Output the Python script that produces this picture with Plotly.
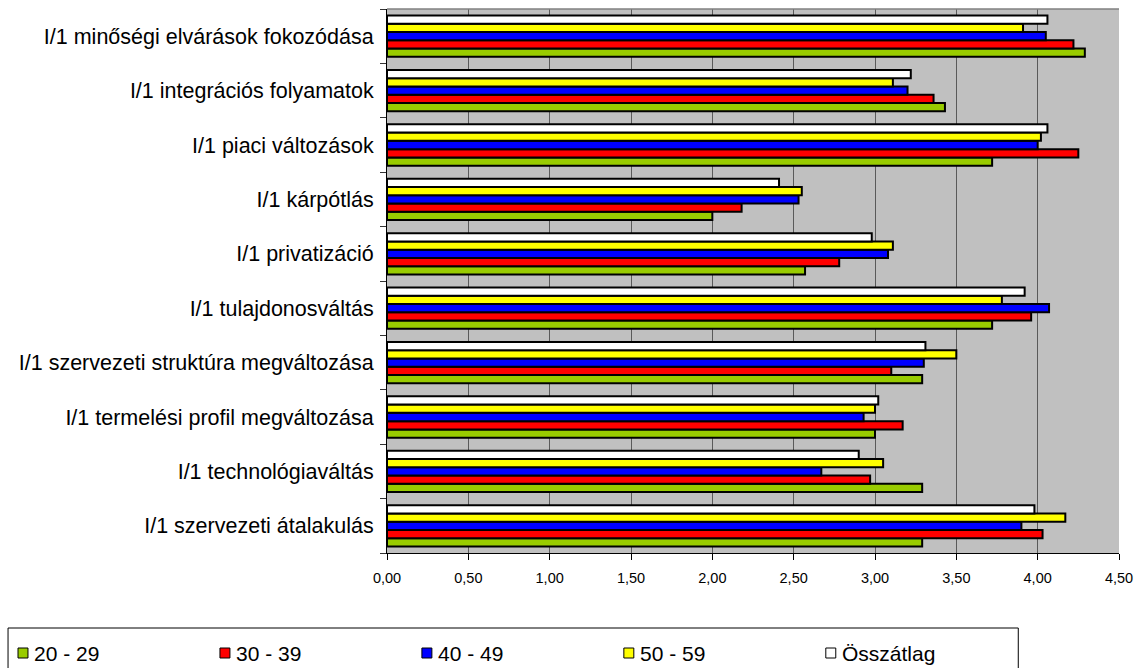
import plotly.graph_objects as go

# Categories listed bottom-to-top, as they appear on the vertical axis
categories = [
    "I/1 szervezeti átalakulás",
    "I/1 technológiaváltás",
    "I/1 termelési profil megváltozása",
    "I/1 szervezeti struktúra megváltozása",
    "I/1 tulajdonosváltás",
    "I/1 privatizáció",
    "I/1 kárpótlás",
    "I/1 piaci változások",
    "I/1 integrációs folyamatok",
    "I/1 minőségi elvárások fokozódása",
]

age_20_29 = [3.29, 3.29, 3.00, 3.29, 3.72, 2.57, 2.00, 3.72, 3.43, 4.29]
age_30_39 = [4.03, 2.97, 3.17, 3.10, 3.96, 2.78, 2.18, 4.25, 3.36, 4.22]
age_40_49 = [3.90, 2.67, 2.93, 3.30, 4.07, 3.08, 2.53, 4.00, 3.20, 4.05]
age_50_59 = [4.17, 3.05, 3.00, 3.50, 3.78, 3.11, 2.55, 4.02, 3.11, 3.91]
overall = [3.98, 2.90, 3.02, 3.31, 3.92, 2.98, 2.41, 4.06, 3.22, 4.06]

series_names = ["20 - 29", "30 - 39", "40 - 49", "50 - 59", "Összátlag"]
series_values = [age_20_29, age_30_39, age_40_49, age_50_59, overall]
series_colors = ["#99CC00", "#FF0000", "#0000FF", "#FFFF00", "#FFFFFF"]

x_ticks = [0, 0.5, 1.0, 1.5, 2.0, 2.5, 3.0, 3.5, 4.0, 4.5]

FONT = "Arial, Liberation Sans, sans-serif"

W, H = 1142, 668
L, R, T, B = 387, 21, 9, 115
PW, PH = W - L - R, H - T - B


def px_x(px):
    """Page pixel column -> paper x."""
    return (px - L) / PW


def px_y(py):
    """Page pixel row (from top) -> paper y."""
    return (H - B - py) / PH


fig = go.Figure()
for name, vals, color in zip(series_names, series_values, series_colors):
    fig.add_trace(go.Bar(
        y=categories,
        x=vals,
        name=name,
        orientation="h",
        marker=dict(color=color, line=dict(color="#000000", width=2)),
    ))

# Legend drawn as a framed strip under the axis
shapes = [
    dict(type="rect", xref="paper", yref="paper",
         x0=px_x(7), x1=px_x(1020), y0=px_y(700), y1=px_y(628),
         line=dict(color="#000000", width=1), fillcolor="rgba(0,0,0,0)"),
    # grey top frame of the plot area
    dict(type="line", xref="paper", yref="paper", x0=0, x1=1, y0=1, y1=1,
         line=dict(color="#808080", width=1.5)),
]
annotations = []
item_left, item_step, sym = 17, 202.5, 10
legend_mid = 653
for i, (name, color) in enumerate(zip(series_names, series_colors)):
    x0 = item_left + i * item_step
    shapes.append(dict(
        type="rect", xref="paper", yref="paper",
        x0=px_x(x0), x1=px_x(x0 + sym),
        y0=px_y(legend_mid + sym / 2), y1=px_y(legend_mid - sym / 2),
        line=dict(color="#000000", width=1), fillcolor=color,
    ))
    annotations.append(dict(
        xref="paper", yref="paper", x=px_x(x0 + sym + 4), y=px_y(legend_mid),
        xanchor="left", yanchor="middle", text=name, showarrow=False,
        font=dict(family=FONT, size=21, color="#000000"),
    ))

fig.update_layout(
    width=W,
    height=H,
    margin=dict(l=L, r=R, t=T, b=B, pad=0),
    paper_bgcolor="#FFFFFF",
    plot_bgcolor="#C0C0C0",
    barmode="group",
    bargap=0.24,
    bargroupgap=0,
    separators=", ",
    font=dict(family=FONT, color="#000000"),
    showlegend=False,
    shapes=shapes,
    annotations=annotations,
)

fig.update_xaxes(
    range=[0, 4.5],
    tickvals=x_ticks,
    tickformat=".2f",
    ticks="outside",
    ticklen=6,
    tickcolor="#000000",
    showline=True,
    linecolor="#000000",
    linewidth=1,
    showgrid=True,
    gridcolor="#5A5A5A",
    gridwidth=1,
    zeroline=False,
    tickfont=dict(family=FONT, size=14.5, color="#000000"),
    ticklabelstandoff=6,
    fixedrange=True,
)

fig.update_yaxes(
    type="category",
    categoryorder="array",
    categoryarray=categories,
    tickson="boundaries",
    ticks="outside",
    ticklen=6,
    tickcolor="#333333",
    showline=True,
    linecolor="#000000",
    linewidth=1,
    showgrid=False,
    zeroline=False,
    tickfont=dict(family=FONT, size=21.5, color="#000000"),
    ticklabelstandoff=8,
    fixedrange=True,
)

fig.write_html("out.html")
